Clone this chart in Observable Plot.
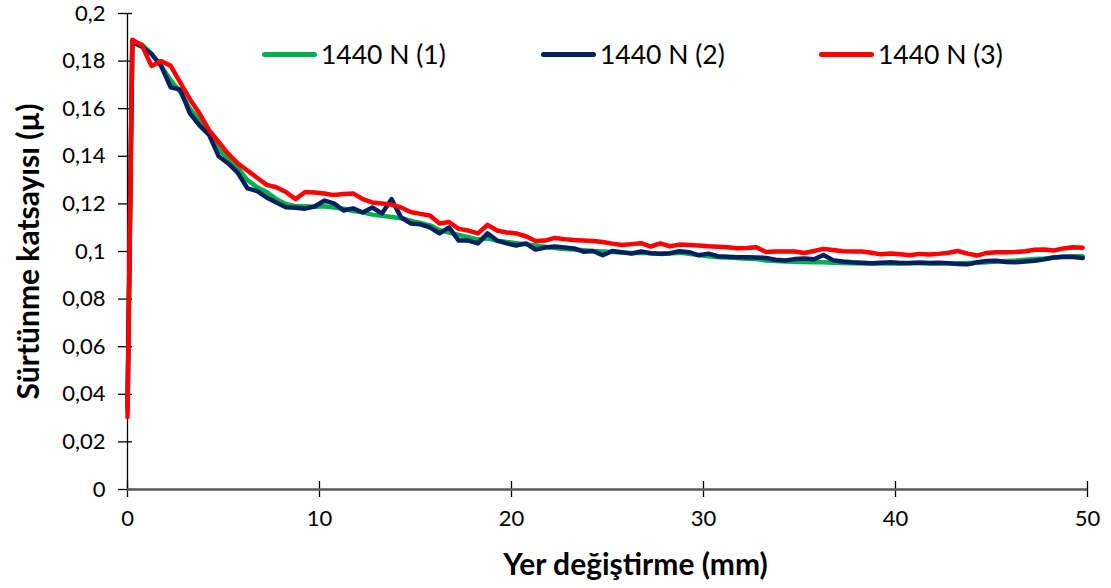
<!DOCTYPE html>
<html>
<head>
<meta charset="utf-8">
<script src="https://cdn.jsdelivr.net/npm/d3@7"></script>
<script src="https://cdn.jsdelivr.net/npm/@observablehq/plot@0.6"></script>
<style>
  html, body { margin: 0; padding: 0; background: #fff; }
  #wrap { position: relative; width: 1111px; height: 588px; font-family: Lato, "Open Sans", sans-serif; }
  .legend { position: absolute; top: 38px; left: 0; width: 1111px; height: 34px; }
  .item { position: absolute; display: flex; align-items: center; font-size: 26.5px; color: #000; white-space: nowrap; }
  .swatch { width: 55px; height: 5px; border-radius: 3px; margin-right: 4px; }
</style>
</head>
<body>
<div id="wrap"></div>
<script>
// Displacement (mm)
const xs = [0, 0.25, 0.75, 1.25, 1.75, 2.25, 2.75, 3.25, 3.75, 4.25, 4.75, 5.25, 5.75, 6.25, 6.75, 7.25, 7.75, 8.25, 8.75, 9.25, 9.75,
  10.25, 10.75, 11.25, 11.75, 12.25, 12.75, 13.25, 13.75, 14.25, 14.75, 15.25, 15.75, 16.25, 16.75, 17.25, 17.75, 18.25, 18.75, 19.25, 19.75,
  20.25, 20.75, 21.25, 21.75, 22.25, 22.75, 23.25, 23.75, 24.25, 24.75, 25.25, 25.75, 26.25, 26.75, 27.25, 27.75, 28.25, 28.75, 29.25, 29.75,
  30.25, 30.75, 31.25, 31.75, 32.25, 32.75, 33.25, 33.75, 34.25, 34.75, 35.25, 35.75, 36.25, 36.75, 37.25, 37.75, 38.25, 38.75, 39.25, 39.75,
  40.25, 40.75, 41.25, 41.75, 42.25, 42.75, 43.25, 43.75, 44.25, 44.75, 45.25, 45.75, 46.25, 46.75, 47.25, 47.75, 48.25, 48.75, 49.25, 49.75];

// 1440 N (1)
const s1 = [0.033,
  0.188, 0.187, 0.183, 0.178, 0.172, 0.167, 0.160, 0.155, 0.150, 0.143,
  0.139, 0.135, 0.130, 0.127, 0.125, 0.122, 0.120, 0.119, 0.119, 0.1188,
  0.119, 0.1185, 0.118, 0.117, 0.1165, 0.1155, 0.115, 0.1145, 0.114, 0.113,
  0.112, 0.111, 0.109, 0.108, 0.107, 0.106, 0.105, 0.1055, 0.1045, 0.104,
  0.1035, 0.103, 0.1025, 0.102, 0.1015, 0.101, 0.1008, 0.1005, 0.1002, 0.1,
  0.0998, 0.0996, 0.0994, 0.0995, 0.0993, 0.099, 0.0992, 0.0995, 0.099, 0.0985,
  0.098, 0.0976, 0.0975, 0.0973, 0.097, 0.0968, 0.0962, 0.096, 0.0958, 0.0957,
  0.0956, 0.0955, 0.0955, 0.0953, 0.0952, 0.0951, 0.095, 0.095, 0.095, 0.095,
  0.095, 0.0951, 0.0951, 0.095, 0.095, 0.0951, 0.0951, 0.0952, 0.0953, 0.0955,
  0.0958, 0.096, 0.0962, 0.0965, 0.0968, 0.0971, 0.0975, 0.0978, 0.098, 0.098];

// 1440 N (2)
const s2 = [0.035,
  0.188, 0.186, 0.183, 0.178, 0.169, 0.168, 0.158, 0.153, 0.149, 0.140,
  0.137, 0.133, 0.1265, 0.1254, 0.1227, 0.1206, 0.1186, 0.1184, 0.118, 0.1189,
  0.1214, 0.1202, 0.1172, 0.1181, 0.1164, 0.1185, 0.116, 0.122, 0.1143, 0.1118,
  0.1114, 0.1101, 0.1076, 0.1101, 0.1046, 0.1046, 0.1034, 0.1076, 0.1046, 0.1034,
  0.1025, 0.1034, 0.1008, 0.1017, 0.1021, 0.1017, 0.1013, 0.0999, 0.1002, 0.0984,
  0.1002, 0.0997, 0.0991, 0.1, 0.0993, 0.0991, 0.0993, 0.1001, 0.0997, 0.0984,
  0.0991, 0.098, 0.0978, 0.0976, 0.0976, 0.0975, 0.0973, 0.0965, 0.0962, 0.0968,
  0.0971, 0.0967, 0.0985, 0.0963, 0.0958, 0.0955, 0.0953, 0.0951, 0.0953, 0.0955,
  0.0952, 0.0952, 0.0954, 0.0952, 0.0953, 0.0951, 0.0947, 0.0946, 0.0955, 0.096,
  0.0961, 0.0956, 0.0955, 0.0958, 0.0961, 0.0967, 0.0975, 0.0978, 0.0977, 0.0973];

// 1440 N (3)
const s3 = [0.0305,
  0.189, 0.1866, 0.178, 0.180, 0.178, 0.171, 0.164, 0.158, 0.151, 0.146,
  0.141, 0.137, 0.134, 0.131, 0.128, 0.127, 0.125, 0.122, 0.125, 0.1248,
  0.1244, 0.1237, 0.1242, 0.1244, 0.122, 0.1206, 0.1202, 0.1197, 0.1185, 0.1166,
  0.1158, 0.1151, 0.1118, 0.1124, 0.1095, 0.1088, 0.1076, 0.1112, 0.1088, 0.108,
  0.1076, 0.1064, 0.1044, 0.1046, 0.1057, 0.1052, 0.1048, 0.1046, 0.1044, 0.104,
  0.1033, 0.1027, 0.1031, 0.1035, 0.1021, 0.1034, 0.1022, 0.1029, 0.1027, 0.1025,
  0.1022, 0.102, 0.1018, 0.1014, 0.1015, 0.1018, 0.0998, 0.1, 0.1, 0.1,
  0.0994, 0.1002, 0.1011, 0.1006, 0.1001, 0.1, 0.1, 0.0995, 0.0988, 0.0992,
  0.0988, 0.0984, 0.099, 0.0987, 0.099, 0.0995, 0.1002, 0.0991, 0.0983, 0.0994,
  0.0997, 0.0997, 0.0998, 0.1001, 0.1007, 0.1008, 0.1004, 0.1013, 0.1018, 0.1016];

const seriesNames = ["1440 N (1)", "1440 N (2)", "1440 N (3)"];
const seriesColors = ["#00B050", "#002060", "#FF0000"];
const xTicks = [0, 10, 20, 30, 40, 50];
const xTickLabels = ["0", "10", "20", "30", "40", "50"];
const yTicks = [0, 0.02, 0.04, 0.06, 0.08, 0.1, 0.12, 0.14, 0.16, 0.18, 0.2];
const yTickLabels = ["0", "0,02", "0,04", "0,06", "0,08", "0,1", "0,12", "0,14", "0,16", "0,18", "0,2"];
const xTitle = "Yer değiştirme (mm)";
const yTitle = "Sürtünme katsayısı (µ)";

const allSeries = [s1, s2, s3];
const rows = [];
allSeries.forEach((vals, si) => {
  vals.forEach((v, i) => rows.push({x: xs[i], y: v, s: seriesNames[si]}));
});

const lineMarks = seriesNames.map((name, si) =>
  Plot.line(rows.filter(d => d.s === name), {
    x: "x", y: "y", stroke: seriesColors[si], strokeWidth: 4.5,
    strokeLinejoin: "round", strokeLinecap: "round"
  })
);

const chart = Plot.plot({
  width: 1111,
  height: 588,
  marginLeft: 127,
  marginRight: 24,
  marginTop: 13,
  marginBottom: 99,
  style: {fontFamily: "Lato, 'Open Sans', sans-serif", fontSize: "22px", color: "#000", background: "#fff"},
  x: {domain: [0, 50]},
  y: {domain: [0, 0.2]},
  marks: [
    Plot.ruleX([0], {stroke: "#000", strokeWidth: 1.3}),
    Plot.axisY({ticks: yTicks, tickSize: 14, dx: 5, text: null, label: null, stroke: "#000", strokeWidth: 1.3}),
    Plot.axisY({ticks: yTicks, tickSize: 0, tickPadding: 22, tickFormat: (d, i) => yTickLabels[i], label: null, fill: "#000"}),
    Plot.axisX({ticks: xTicks, tickSize: 16, dy: -8, text: null, label: null, stroke: "#000", strokeWidth: 1.3}),
    Plot.axisX({ticks: xTicks, tickSize: 0, tickPadding: 21, tickFormat: (d, i) => xTickLabels[i], label: null, fill: "#000"}),
    ...lineMarks,
    Plot.ruleY([0], {stroke: "#595959", strokeWidth: 2.5}),
    Plot.text([yTitle], {frameAnchor: "left", textAnchor: "middle", lineAnchor: "middle", rotate: -90, dx: -98, fontWeight: "bold", fontSize: 30, fill: "#000"}),
    Plot.text([xTitle], {frameAnchor: "bottom", textAnchor: "middle", lineAnchor: "middle", dy: 76, dx: 28, fontWeight: "bold", fontSize: 30, fill: "#000"})
  ]
});

const wrap = document.getElementById("wrap");
wrap.appendChild(chart);

const legend = document.createElement("div");
legend.className = "legend";
const legendLeft = [262, 541, 819];
seriesNames.forEach((name, i) => {
  const item = document.createElement("div");
  item.className = "item";
  item.style.left = legendLeft[i] + "px";
  const sw = document.createElement("span");
  sw.className = "swatch";
  sw.style.background = seriesColors[i];
  const tx = document.createElement("span");
  tx.textContent = name;
  item.appendChild(sw);
  item.appendChild(tx);
  legend.appendChild(item);
});
wrap.appendChild(legend);
</script>
</body>
</html>
